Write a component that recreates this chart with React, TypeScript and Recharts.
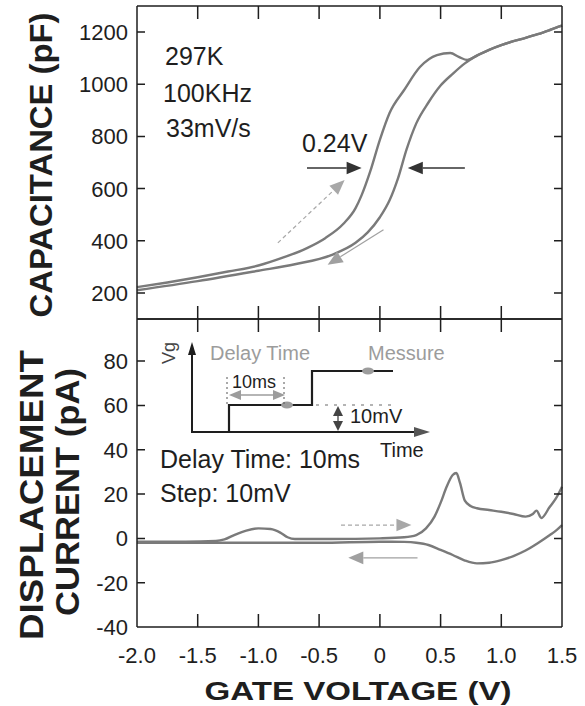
import React from 'react';
import { LineChart, Line, XAxis, YAxis, ReferenceLine } from 'recharts';

// C-V hysteresis (pF) – forward sweep (left branch) and reverse sweep (right branch)
const cvForwardV = [-2.0, -1.75, -1.5, -1.25, -1.0, -0.8, -0.6, -0.45, -0.3, -0.2, -0.15, -0.08, 0.0, 0.08, 0.2, 0.33, 0.47, 0.58, 0.65, 0.72, 0.8, 0.9, 1.0, 1.1, 1.2, 1.3, 1.4, 1.5];
const cvForwardC = [222, 240, 260, 282, 305, 335, 372, 410, 465, 525, 575, 665, 787, 890, 978, 1066, 1112, 1120, 1105, 1093, 1110, 1132, 1150, 1165, 1178, 1192, 1208, 1225];
const cvReverseV = [-2.0, -1.5, -1.0, -0.7, -0.4, -0.2, -0.1, 0.0, 0.08, 0.15, 0.22, 0.3, 0.4, 0.5, 0.6, 0.7, 0.78, 0.9, 1.0, 1.1, 1.2, 1.3, 1.4, 1.5];
const cvReverseC = [210, 245, 285, 310, 345, 392, 432, 490, 555, 640, 750, 850, 930, 995, 1040, 1080, 1105, 1132, 1150, 1165, 1178, 1192, 1208, 1225];

// displacement current (pA)
const idForwardV = [-2.0, -1.6, -1.35, -1.28, -1.2, -1.1, -1.0, -0.9, -0.82, -0.76, -0.7, -0.4, 0.0, 0.2, 0.3, 0.38, 0.45, 0.5, 0.55, 0.6, 0.63, 0.66, 0.7, 0.75, 0.8, 0.9, 1.0, 1.1, 1.2, 1.26, 1.29, 1.33, 1.4, 1.45, 1.5];
const idForwardI = [-1.5, -1.5, -1.2, -0.5, 1.5, 3.5, 4.5, 4.2, 2.6, 0.5, -0.3, -0.3, 0, 0.5, 1.5, 4.5, 9.8, 16, 23.3, 28.6, 29.5, 25, 17, 14.5, 13.6, 12.8, 12, 11, 9.8, 11, 12.5, 9.2, 14.3, 18, 23.3];
const idReverseV = [-2.0, -1.5, -1.0, -0.5, 0.0, 0.1, 0.2, 0.3, 0.4, 0.5, 0.6, 0.7, 0.8, 0.9, 1.0, 1.1, 1.2, 1.3, 1.4, 1.45, 1.5];
const idReverseI = [-2, -2, -2, -2, -1.5, -1.5, -1.6, -2, -3, -5.2, -7.5, -10, -11.3, -11, -9.8, -8, -5.5, -2.2, 1.5, 3.5, 6];

const xTicks = [-2.0, -1.5, -1.0, -0.5, 0, 0.5, 1.0, 1.5];
const xInnerTicks = [-1.5, -1.0, -0.5, 0, 0.5, 1.0];
const capTicks = [200, 400, 600, 800, 1000, 1200];
const curTicks = [-40, -20, 0, 20, 40, 60, 80];
const curInnerTicks = [-20, 0, 20, 40, 60, 80];

const X_DOMAIN = [-2, 1.5];
const CAP_DOMAIN = [100, 1300];
const CUR_DOMAIN = [-40, 99];

// plot boxes (px)
const LEFT = 137;
const RIGHT = 562;
const TOP = 6;
const MID = 319;
const BOTTOM = 627;

const FONT = '"Liberation Sans", Arial, Helvetica, sans-serif';
const INK = '#1e1e1e';
const CURVE = '#7a7a7a';
const PALE = '#9c9c9c';

const pts = (xs: number[], ys: number[]) => xs.map((v, i) => ({ v, y: ys[i] }));

const xLabel = (p: any) => {
  const v = p.payload.value;
  return (
    <text x={p.x} y={p.y + 36} textAnchor="middle" fontSize={22} fontFamily={FONT} fill={INK}>
      {v === 0 ? '0' : v.toFixed(1)}
    </text>
  );
};

const yLabel = (p: any) => (
  <text x={p.x - 9} y={p.y + 8} textAnchor="end" fontSize={22} fontFamily={FONT} fill={INK}>
    {p.payload.value}
  </text>
);

const arrow = (color: string, dash?: string, head = 13, width = 1.4) => (p: any) => {
  const { x1, y1, x2, y2 } = p;
  const a = Math.atan2(y2 - y1, x2 - x1);
  const hw = head * 0.42;
  const bx = x2 - head * Math.cos(a);
  const by = y2 - head * Math.sin(a);
  const poly = [
    [x2, y2],
    [bx + hw * Math.sin(a), by - hw * Math.cos(a)],
    [bx - hw * Math.sin(a), by + hw * Math.cos(a)],
  ]
    .map((q) => q.join(','))
    .join(' ');
  return (
    <g>
      <line x1={x1} y1={y1} x2={bx} y2={by} stroke={color} strokeWidth={width} strokeDasharray={dash} />
      <polygon points={poly} fill={color} />
    </g>
  );
};

const frame = { stroke: INK, strokeWidth: 1.5 };
// axes get 1px of room so recharts renders them; margins are cut by that pixel
const axisCommon = { type: 'number' as const, interval: 0, tickSize: 0, tickMargin: 0, tickLine: false, axisLine: frame };

function CapacitancePanel() {
  return (
    <LineChart width={585} height={706} margin={{ top: TOP - 1, right: 585 - RIGHT - 1, bottom: 706 - MID - 1, left: LEFT - 1 }}>
      <XAxis xAxisId={0} dataKey="v" domain={X_DOMAIN} ticks={xTicks} height={1} {...axisCommon} tick={false} />
      <XAxis xAxisId="t" orientation="top" dataKey="v" domain={X_DOMAIN} ticks={xTicks} height={1} {...axisCommon} tick={false} />
      <YAxis yAxisId={0} domain={CAP_DOMAIN} ticks={capTicks} width={1} {...axisCommon} tick={yLabel} />
      <YAxis yAxisId="r" orientation="right" domain={CAP_DOMAIN} ticks={capTicks} width={1} {...axisCommon} tick={false} />
      <Line data={pts(cvForwardV, cvForwardC)} dataKey="y" type="monotone" dot={false} stroke={CURVE} strokeWidth={2.4} isAnimationActive={false} />
      <Line data={pts(cvReverseV, cvReverseC)} dataKey="y" type="monotone" dot={false} stroke={CURVE} strokeWidth={2.4} isAnimationActive={false} />
      <ReferenceLine segment={[{ x: -0.84, y: 392 }, { x: -0.29, y: 633 }]} shape={arrow('#a8a8a8', '4 3', 15, 1.2)} />
      <ReferenceLine segment={[{ x: 0.03, y: 442 }, { x: -0.43, y: 308 }]} shape={arrow('#a0a0a0', undefined, 15, 1.2)} />
      <ReferenceLine segment={[{ x: -0.6, y: 679 }, { x: -0.15, y: 679 }]} shape={arrow('#333', undefined, 15, 1.4)} />
      <ReferenceLine segment={[{ x: 0.7, y: 679 }, { x: 0.23, y: 679 }]} shape={arrow('#333', undefined, 15, 1.4)} />
    </LineChart>
  );
}

function CurrentPanel() {
  return (
    <LineChart width={585} height={706} margin={{ top: MID - 1, right: 585 - RIGHT - 1, bottom: 706 - BOTTOM - 1, left: LEFT - 1 }}>
      <XAxis xAxisId={0} dataKey="v" domain={X_DOMAIN} ticks={xTicks} height={1} {...axisCommon} tick={xLabel} />
      <XAxis xAxisId="t" orientation="top" dataKey="v" domain={X_DOMAIN} ticks={xTicks} height={1} {...axisCommon} tick={false} />
      <YAxis yAxisId={0} domain={CUR_DOMAIN} ticks={curTicks} width={1} {...axisCommon} tick={yLabel} />
      <YAxis yAxisId="r" orientation="right" domain={CUR_DOMAIN} ticks={curInnerTicks} width={1} {...axisCommon} tick={false} />
      <Line data={pts(idForwardV, idForwardI)} dataKey="y" type="monotone" dot={false} stroke={CURVE} strokeWidth={2.4} isAnimationActive={false} />
      <Line data={pts(idReverseV, idReverseI)} dataKey="y" type="monotone" dot={false} stroke={CURVE} strokeWidth={2.4} isAnimationActive={false} />
      <ReferenceLine segment={[{ x: -0.32, y: 6 }, { x: 0.26, y: 6 }]} shape={arrow('#a8a8a8', '4 3', 15, 1.2)} />
      <ReferenceLine segment={[{ x: 0.31, y: -8.8 }, { x: -0.26, y: -8.8 }]} shape={arrow('#a0a0a0', undefined, 15, 1.2)} />
    </LineChart>
  );
}

// inward tick marks on every side of both boxes (same linear mapping as the charts)
const sx = (v: number) => LEFT + ((v - X_DOMAIN[0]) / (X_DOMAIN[1] - X_DOMAIN[0])) * (RIGHT - LEFT);
const sCap = (c: number) => TOP + ((CAP_DOMAIN[1] - c) / (CAP_DOMAIN[1] - CAP_DOMAIN[0])) * (MID - TOP);
const sCur = (c: number) => MID + ((CUR_DOMAIN[1] - c) / (CUR_DOMAIN[1] - CUR_DOMAIN[0])) * (BOTTOM - MID);

function TickMarks() {
  const d: string[] = [];
  xInnerTicks.forEach((v) => {
    const x = sx(v).toFixed(1);
    d.push(`M${x},${TOP}V${TOP + 13}`, `M${x},${MID - 13}V${MID + 13}`, `M${x},${BOTTOM}V${BOTTOM - 13}`);
  });
  capTicks.forEach((c) => {
    const y = sCap(c).toFixed(1);
    d.push(`M${LEFT},${y}H${LEFT + 8}`, `M${RIGHT},${y}H${RIGHT - 8}`);
  });
  curInnerTicks.forEach((c) => {
    const y = sCur(c).toFixed(1);
    d.push(`M${LEFT},${y}H${LEFT + 8}`, `M${RIGHT},${y}H${RIGHT - 8}`);
  });
  return <path d={d.join(' ')} fill="none" stroke={INK} strokeWidth={1.5} />;
}

// timing sketch inside the lower panel
function Inset() {
  const t = { fontFamily: FONT };
  return (
    <g>
      <text transform="translate(175,353) rotate(-90)" textAnchor="middle" fontSize={18} fill="#444" {...t}>Vg</text>
      <line x1={192} y1={433} x2={192} y2={352} stroke={INK} strokeWidth={2} />
      <polygon points="192,342 188,355 196,355" fill={INK} />
      <line x1={192} y1={432} x2={418} y2={432} stroke={INK} strokeWidth={2} />
      <polygon points="430,432 414,427 414,437" fill="#555" />
      <polyline points="229,432 229,405 312,405 312,371 393,371" fill="none" stroke={INK} strokeWidth={2.2} />
      <line x1={316} y1={405} x2={392} y2={405} stroke={PALE} strokeWidth={1.5} strokeDasharray="3 6" />
      <ellipse cx={287} cy={405} rx={6} ry={3.5} fill={PALE} />
      <ellipse cx={368} cy={371} rx={6} ry={3.5} fill={PALE} />
      <line x1={227} y1={377} x2={227} y2={404} stroke="#555" strokeWidth={1} strokeDasharray="2 3" />
      <line x1={284} y1={377} x2={284} y2={404} stroke="#555" strokeWidth={1} strokeDasharray="2 3" />
      <line x1={240} y1={395} x2={274} y2={395} stroke={PALE} strokeWidth={1.5} />
      <polygon points="229,395 241,390 241,400" fill={PALE} />
      <polygon points="285,395 273,390 273,400" fill={PALE} />
      <line x1={338} y1={415} x2={338} y2={422} stroke="#333" strokeWidth={1.2} />
      <polygon points="338,406 333,416 343,416" fill="#444" />
      <polygon points="338,431 333,421 343,421" fill="#444" />
      <text x={210} y={360} fontSize={20} fill={PALE} {...t}>Delay Time</text>
      <text x={368} y={360} fontSize={20} fill={PALE} {...t}>Messure</text>
      <text x={232} y={388} fontSize={18} fill={INK} {...t}>10ms</text>
      <text x={350} y={423} fontSize={20} fill={INK} {...t}>10mV</text>
      <text x={380} y={457} fontSize={20} fill={INK} {...t}>Time</text>
    </g>
  );
}

function Overlay() {
  const t = { fontFamily: FONT, fill: INK };
  return (
    <svg width={585} height={706} style={{ position: 'absolute', left: 0, top: 0, pointerEvents: 'none' }}>
      <text transform="translate(52,165) rotate(-90)" textAnchor="middle" fontSize={32} fontWeight="bold" textLength={305} lengthAdjust="spacingAndGlyphs" {...t}>CAPACITANCE (pF)</text>
      <text transform="translate(43,495) rotate(-90)" textAnchor="middle" fontSize={33} fontWeight="bold" textLength={290} lengthAdjust="spacingAndGlyphs" {...t}>DISPLACEMENT</text>
      <text transform="translate(79,492) rotate(-90)" textAnchor="middle" fontSize={33} fontWeight="bold" textLength={248} lengthAdjust="spacingAndGlyphs" {...t}>CURRENT (pA)</text>
      <text x={358} y={700} textAnchor="middle" fontSize={26} fontWeight="bold" textLength={307} lengthAdjust="spacingAndGlyphs" {...t}>GATE VOLTAGE (V)</text>
      <text x={165} y={65} fontSize={25} {...t}>297K</text>
      <text x={163} y={102} fontSize={25} {...t}>100KHz</text>
      <text x={166} y={137} fontSize={25} {...t}>33mV/s</text>
      <text x={302} y={152} fontSize={25} {...t}>0.24V</text>
      <text x={160} y={468} fontSize={25} {...t}>Delay Time: 10ms</text>
      <text x={160} y={502} fontSize={25} {...t}>Step: 10mV</text>
      <Inset />
      <TickMarks />
    </svg>
  );
}

export default function App() {
  return (
    <div style={{ position: 'absolute', left: 0, top: 0, width: 585, height: 706, background: '#fff' }}>
      <div style={{ position: 'absolute', left: 0, top: 0 }}>
        <CapacitancePanel />
      </div>
      <div style={{ position: 'absolute', left: 0, top: 0 }}>
        <CurrentPanel />
      </div>
      <Overlay />
    </div>
  );
}
